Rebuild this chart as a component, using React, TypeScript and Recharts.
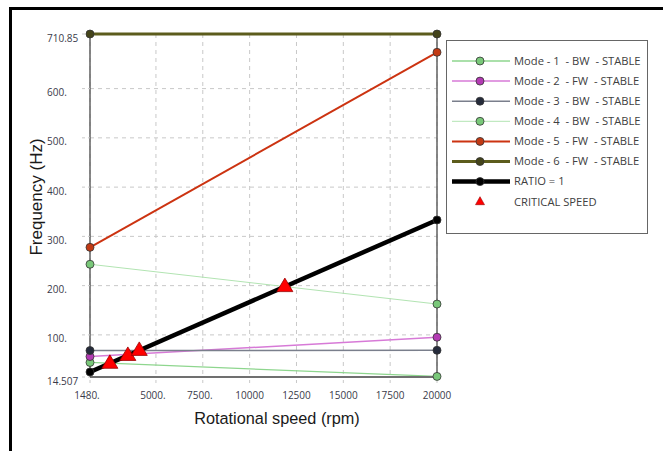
import React from 'react'
import {
    ComposedChart,
    Line,
    Scatter,
    XAxis,
    YAxis,
    CartesianGrid,
    ReferenceLine
} from 'recharts'

// speeds where every mode was solved (rpm)
const speeds = [1480, 20000]

// frequencies per mode (Hz), one value for each speed
const mode1 = [44, 15.7]
const mode2 = [56, 95.3]
const mode3 = [68.2, 68.7]
const mode4 = [243.4, 162.6]
const mode5 = [277.7, 673.7]
const mode6 = [710.85, 710.85]
const ratio1 = [24.67, 333.33]

// critical speeds (ratio line crossing the modes)
const criticalRpm = [2540, 3500, 4110, 11880]
const criticalHz = [42.3, 58.3, 68.5, 198]

const xTicks = [1480, 5000, 7500, 10000, 12500, 15000, 17500, 20000]
const xTickLabels = ['1480.', '5000.', '7500.', '10000', '12500', '15000', '17500', '20000']
const yTicks = [14.507, 100, 200, 300, 400, 500, 600, 710.85]
const yTickLabels = ['14.507', '100.', '200.', '300.', '400.', '500.', '600.', '710.85']

const toPoints = (values: number[]) => speeds.map((rpm, i) => ({ rpm, hz: values[i] }))
const criticalData = criticalRpm.map((rpm, i) => ({ rpm, hz: criticalHz[i] }))

const series = [
    { name: 'Mode - 1  - BW  - STABLE', values: mode1, stroke: '#8ed68e', width: 1.3, dot: '#79c879' },
    { name: 'Mode - 2  - FW  - STABLE', values: mode2, stroke: '#d77ad7', width: 1.5, dot: '#b33ab3' },
    { name: 'Mode - 3  - BW  - STABLE', values: mode3, stroke: '#7a7f8c', width: 1.5, dot: '#252b3b' },
    { name: 'Mode - 4  - BW  - STABLE', values: mode4, stroke: '#b2e4b2', width: 1, dot: '#79c879' },
    { name: 'Mode - 5  - FW  - STABLE', values: mode5, stroke: '#cc3311', width: 2, dot: '#c23a14' },
    { name: 'Mode - 6  - FW  - STABLE', values: mode6, stroke: '#5c5c1c', width: 3, dot: '#44441a' },
    { name: 'RATIO = 1', values: ratio1, stroke: '#000000', width: 4.5, dot: '#000000' },
]

const tickFont = { fontFamily: '"Open Sans", sans-serif', fontSize: 10, fill: '#3a3a4a' }

function XTick(props: any) {
    const { x, y, payload } = props
    const label = xTickLabels[xTicks.indexOf(payload.value)]
    const shift = label.endsWith('.') ? -3 : 0
    return (
        <text x={x + shift} y={y + 14} textAnchor="middle" {...tickFont}>
            {label}
        </text>
    )
}

function YTick(props: any) {
    const { x, y, payload } = props
    const label = yTickLabels[yTicks.indexOf(payload.value)]
    return (
        <text x={x - 33} y={y + 7.5} textAnchor="start" {...tickFont}>
            {label}
        </text>
    )
}

function Triangle(props: any) {
    const { cx, cy } = props
    return (
        <polygon
            points={`${cx},${cy - 8.5} ${cx - 8},${cy + 5} ${cx + 8},${cy + 5}`}
            fill="#ff0000"
            stroke="#9a0000"
            strokeWidth={0.8}
        />
    )
}

function LegendBox() {
    const rowH = 20.1
    return (
        <div
            style={{
                position: 'absolute',
                left: 446,
                top: 40,
                width: 200,
                height: 192,
                border: '1px solid #666',
                background: '#fff',
            }}
        >
            <svg width={200} height={192}>
                {series.map((s, i) => (
                    <g key={s.name}>
                        <line x1={5} x2={63} y1={20 + i * rowH} y2={20 + i * rowH} stroke={s.stroke} strokeWidth={s.width} />
                        <circle cx={33} cy={20 + i * rowH} r={4} fill={s.dot} stroke="#333" strokeWidth={0.8} />
                        <text x={67} y={23.8 + i * rowH} {...tickFont} fontSize={11.2} fill="#404040" style={{ whiteSpace: 'pre' }}>
                            {s.name}
                        </text>
                    </g>
                ))}
                <polygon
                    points={`33,${20 + 7 * rowH - 5} 28.5,${20 + 7 * rowH + 3} 37.5,${20 + 7 * rowH + 3}`}
                    fill="#ff0000"
                    stroke="#9a0000"
                    strokeWidth={0.6}
                />
                <text x={67} y={23.8 + 7 * rowH} {...tickFont} fontSize={11.2} fill="#404040">
                    CRITICAL SPEED
                </text>
            </svg>
        </div>
    )
}

export default function App() {
    return (
        <div style={{ position: 'fixed', left: 0, top: 0, width: 663, height: 451, background: '#fff' }}>
            <div
                style={{
                    position: 'absolute',
                    left: 9,
                    top: 7,
                    width: 651,
                    height: 441,
                    borderTop: '3px solid #000',
                    borderLeft: '3px solid #000',
                }}
            />
            <ComposedChart width={663} height={451} margin={{ top: 34, right: 226, bottom: 44, left: 30 }}>
                <CartesianGrid stroke="#c8c8c8" strokeDasharray="4 4" />
                <XAxis
                    type="number"
                    dataKey="rpm"
                    domain={[1480, 20000]}
                    ticks={xTicks}
                    interval={0}
                    height={30}
                    axisLine={{ stroke: '#707070', strokeWidth: 2 }}
                    tickLine={{ stroke: '#c8c8c8', strokeDasharray: '3 3' }}
                    tickSize={6}
                    tick={<XTick />}
                />
                <YAxis
                    type="number"
                    dataKey="hz"
                    domain={[14.507, 710.85]}
                    ticks={yTicks}
                    interval={0}
                    width={60}
                    axisLine={{ stroke: '#606060', strokeWidth: 1.5 }}
                    tickLine={{ stroke: '#c8c8c8', strokeDasharray: '3 3' }}
                    tickSize={8}
                    tick={<YTick />}
                />
                <ReferenceLine x={20000} stroke="#606060" strokeWidth={1.5} />
                {series.map((s) => (
                    <Line
                        key={s.name}
                        data={toPoints(s.values)}
                        dataKey="hz"
                        stroke={s.stroke}
                        strokeWidth={s.width}
                        dot={{ r: 4, fill: s.dot, stroke: '#333', strokeWidth: 0.8 }}
                        isAnimationActive={false}
                    />
                ))}
                <Scatter data={criticalData} dataKey="hz" shape={<Triangle />} isAnimationActive={false} />
                <text
                    x={36}
                    y={197}
                    transform="rotate(-90 36 197)"
                    textAnchor="middle"
                    dominantBaseline="central"
                    fontFamily='"Liberation Sans", Arial, sans-serif'
                    fontSize={17}
                    fill="#1a1a1a"
                >
                    Frequency (Hz)
                </text>
                <text
                    x={277}
                    y={424}
                    textAnchor="middle"
                    fontFamily='"Liberation Sans", Arial, sans-serif'
                    fontSize={16.3}
                    fill="#1a1a1a"
                >
                    Rotational speed (rpm)
                </text>
            </ComposedChart>
            <LegendBox />
        </div>
    )
}
